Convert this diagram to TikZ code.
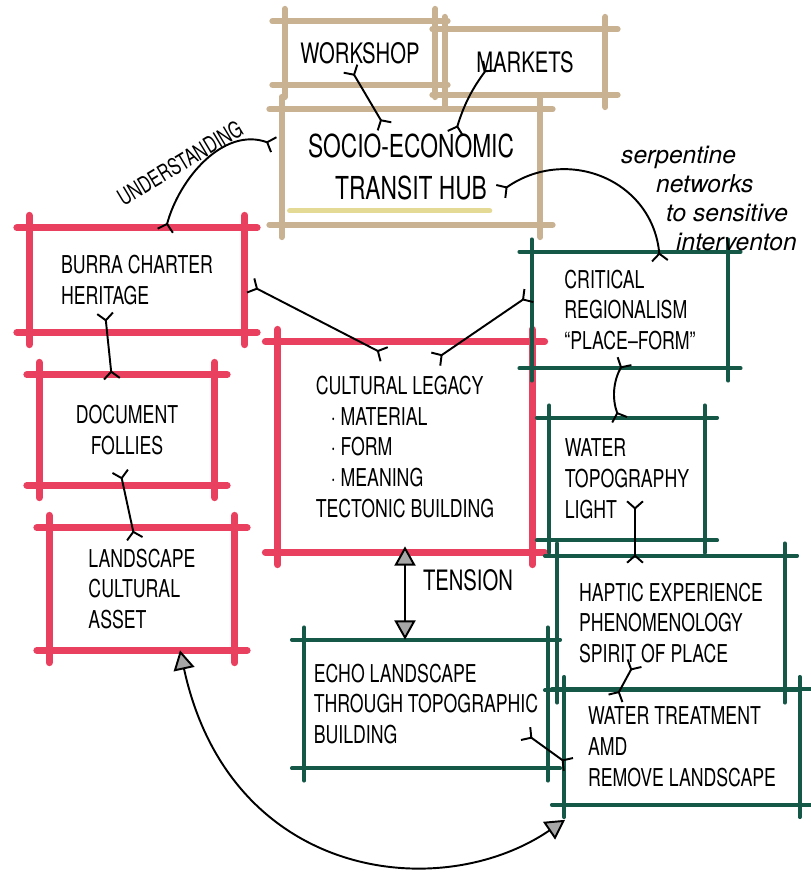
\documentclass[tikz,border=0pt]{standalone}
\usepackage{fontspec}
\usetikzlibrary{arrows.meta}
\newfontfamily\handfont{TeX Gyre Heros}[FakeStretch=0.72]
\newfontfamily\notefont{TeX Gyre Heros}
\definecolor{pencil}{RGB}{200,178,146}
\definecolor{marker}{RGB}{233,64,96}
\definecolor{pine}{RGB}{22,88,72}
\definecolor{chalk}{RGB}{228,218,150}
\tikzset{
  fork/.tip={Straight Barb[reversed,length=4pt,width=9pt]},
  wedge/.tip={Triangle[length=11pt,width=12pt,fill=gray!70]},
  hand/.style={font=\handfont\fontsize{14}{17.6}\selectfont, align=left},
  box/.style={hand, rectangle, inner sep=0pt},
  link/.style={line width=1.1pt, arrows={fork-fork}},
  pull/.style={line width=1.1pt, arrows={wedge-wedge}}
}
\begin{document}
\begin{tikzpicture}[x=0.02cm, y=0.02cm]
\useasboundingbox [fill=white] (0,0) rectangle (811,-873);

\node [box, minimum width=3cm, minimum height=1.26cm, align=center, font=\handfont\fontsize{16}{19}\selectfont] (workshop) at (360,-53) {WORKSHOP};
\node [box, minimum width=3.2cm, minimum height=1.3cm, align=center, font=\handfont\fontsize{16}{19}\selectfont] (markets) at (525,-62) {MARKETS};
\node [box, minimum width=5.16cm, minimum height=2.3cm, align=center, font=\handfont\fontsize{18}{24}\selectfont] (hub) at (411,-167) {SOCIO-ECONOMIC\\TRANSIT HUB};

\node [box, minimum width=4.3cm, minimum height=2.08cm] (burra) at (137,-280) {BURRA CHARTER\\HERITAGE};
\node [box, minimum width=3.5cm, minimum height=2.2cm, align=center] (document) at (127,-430) {DOCUMENT\\FOLLIES};
\node [box, minimum width=3.7cm, minimum height=2.44cm] (landscape) at (142,-589) {LANDSCAPE\\CULTURAL\\ASSET};
\node [box, minimum width=5.08cm, minimum height=4.2cm] (legacy) at (405,-447)
  {CULTURAL LEGACY\\\hspace*{0.3cm}\textperiodcentered\ MATERIAL\\\hspace*{0.3cm}\textperiodcentered\ FORM\\\hspace*{0.3cm}\textperiodcentered\ MEANING\\TECTONIC BUILDING};

\node [box, minimum width=3.92cm, minimum height=2.32cm] (critical) at (630,-310) {CRITICAL\\REGIONALISM\\“PLACE–FORM”};
\node [box, minimum width=3.1cm, minimum height=2.44cm] (light) at (627,-479) {WATER\\TOPOGRAPHY\\LIGHT};
\node [box, minimum width=4.54cm, minimum height=2.68cm] (haptic) at (671,-623) {HAPTIC EXPERIENCE\\PHENOMENOLOGY\\SPIRIT OF PLACE};
\node [box, minimum width=4.86cm, minimum height=2.56cm] (echo) at (426,-704) {ECHO LANDSCAPE\\THROUGH TOPOGRAPHIC\\BUILDING};
\node [box, minimum width=4.7cm, minimum height=2.3cm] (treat) at (682,-747) {WATER TREATMENT\\AMD\\REMOVE LANDSCAPE};

\foreach \n/\c/\w in {workshop/pencil/3.4pt, markets/pencil/3.4pt, hub/pencil/3.4pt,
  burra/marker/4pt, document/marker/4pt, landscape/marker/4pt, legacy/marker/4pt,
  critical/pine/2.2pt, light/pine/2.2pt, haptic/pine/2.2pt, echo/pine/2.2pt, treat/pine/2.2pt}
{
  \draw [color=\c, line width=\w, line cap=round] ([xshift=-7pt]\n.north west) -- ([xshift=7pt]\n.north east);
  \draw [color=\c, line width=\w, line cap=round] ([xshift=-7pt]\n.south west) -- ([xshift=7pt]\n.south east);
  \draw [color=\c, line width=\w, line cap=round] ([yshift=7pt]\n.north west) -- ([yshift=-7pt]\n.south west);
  \draw [color=\c, line width=\w, line cap=round] ([yshift=7pt]\n.north east) -- ([yshift=-7pt]\n.south east);
}
\draw [chalk, line width=3pt, line cap=round] ([shift={(8,14)}]hub.south west) -- ([shift={(208,14)}]hub.south west);

\draw [link] ([shift={(-10,17)}]workshop.south) -- ([shift={(-26,-18)}]hub.north);
\draw [link] ([shift={(-35,30)}]markets.south) to [bend right=10] ([shift={(44,-25)}]hub.north);
\draw [link] ([shift={(-7,22)}]hub.west) to [out=160, in=75] ([shift={(28,-4)}]burra.north);
\draw [link] ([shift={(89,-25)}]hub.center) to [out=35, in=95, looseness=1.2] ([shift={(30,-10)}]critical.north);
\draw [link] ([shift={(5,-5)}]burra.east) -- ([shift={(-20,-13)}]legacy.north);
\draw [link] ([shift={(-2,15)}]critical.west) -- ([shift={(30,-18)}]legacy.north);
\draw [link] ([shift={(-32,20)}]burra.south) -- ([shift={(-15,-5)}]document.north);
\draw [link] ([shift={(-7,15)}]document.south) -- ([shift={(-7,-12)}]landscape.north);
\draw [link] ([shift={(-5,8)}]critical.south) to [bend right=25] ([shift={(-7,-3)}]light.north);
\draw [link] ([shift={(8,40)}]light.south) -- ([shift={(-36,-8)}]haptic.north);
\draw [link] ([shift={(-36,28)}]haptic.south) -- ([shift={(-67,-10)}]treat.north);
\draw [link] ([shift={(-23,-29)}]echo.east) -- ([shift={(5,-18)}]treat.west);

\draw [pull] ([shift={(0,6)}]legacy.south) -- ([shift={(-21,0)}]echo.north);
\draw [pull] ([shift={(38,0)}]landscape.south) .. controls (230,-880) and (440,-905) .. ([shift={(-117,-15)}]treat.south);

\node [hand, rotate=31, font=\handfont\fontsize{13}{15}\selectfont] (understanding) at (180,-163) {UNDERSTANDING};
\node [hand, font=\handfont\fontsize{16}{19}\selectfont] (tension) at (468,-580) {TENSION};
\node [anchor=north west, align=left, font=\notefont\itshape\fontsize{14}{16.5}\selectfont] (serpentine) at (615,-140)
  {serpentine\\\hspace*{0.7cm}networks\\\hspace*{0.9cm}to sensitive\\\hspace*{1.1cm}interventon};
\end{tikzpicture}
\end{document}
